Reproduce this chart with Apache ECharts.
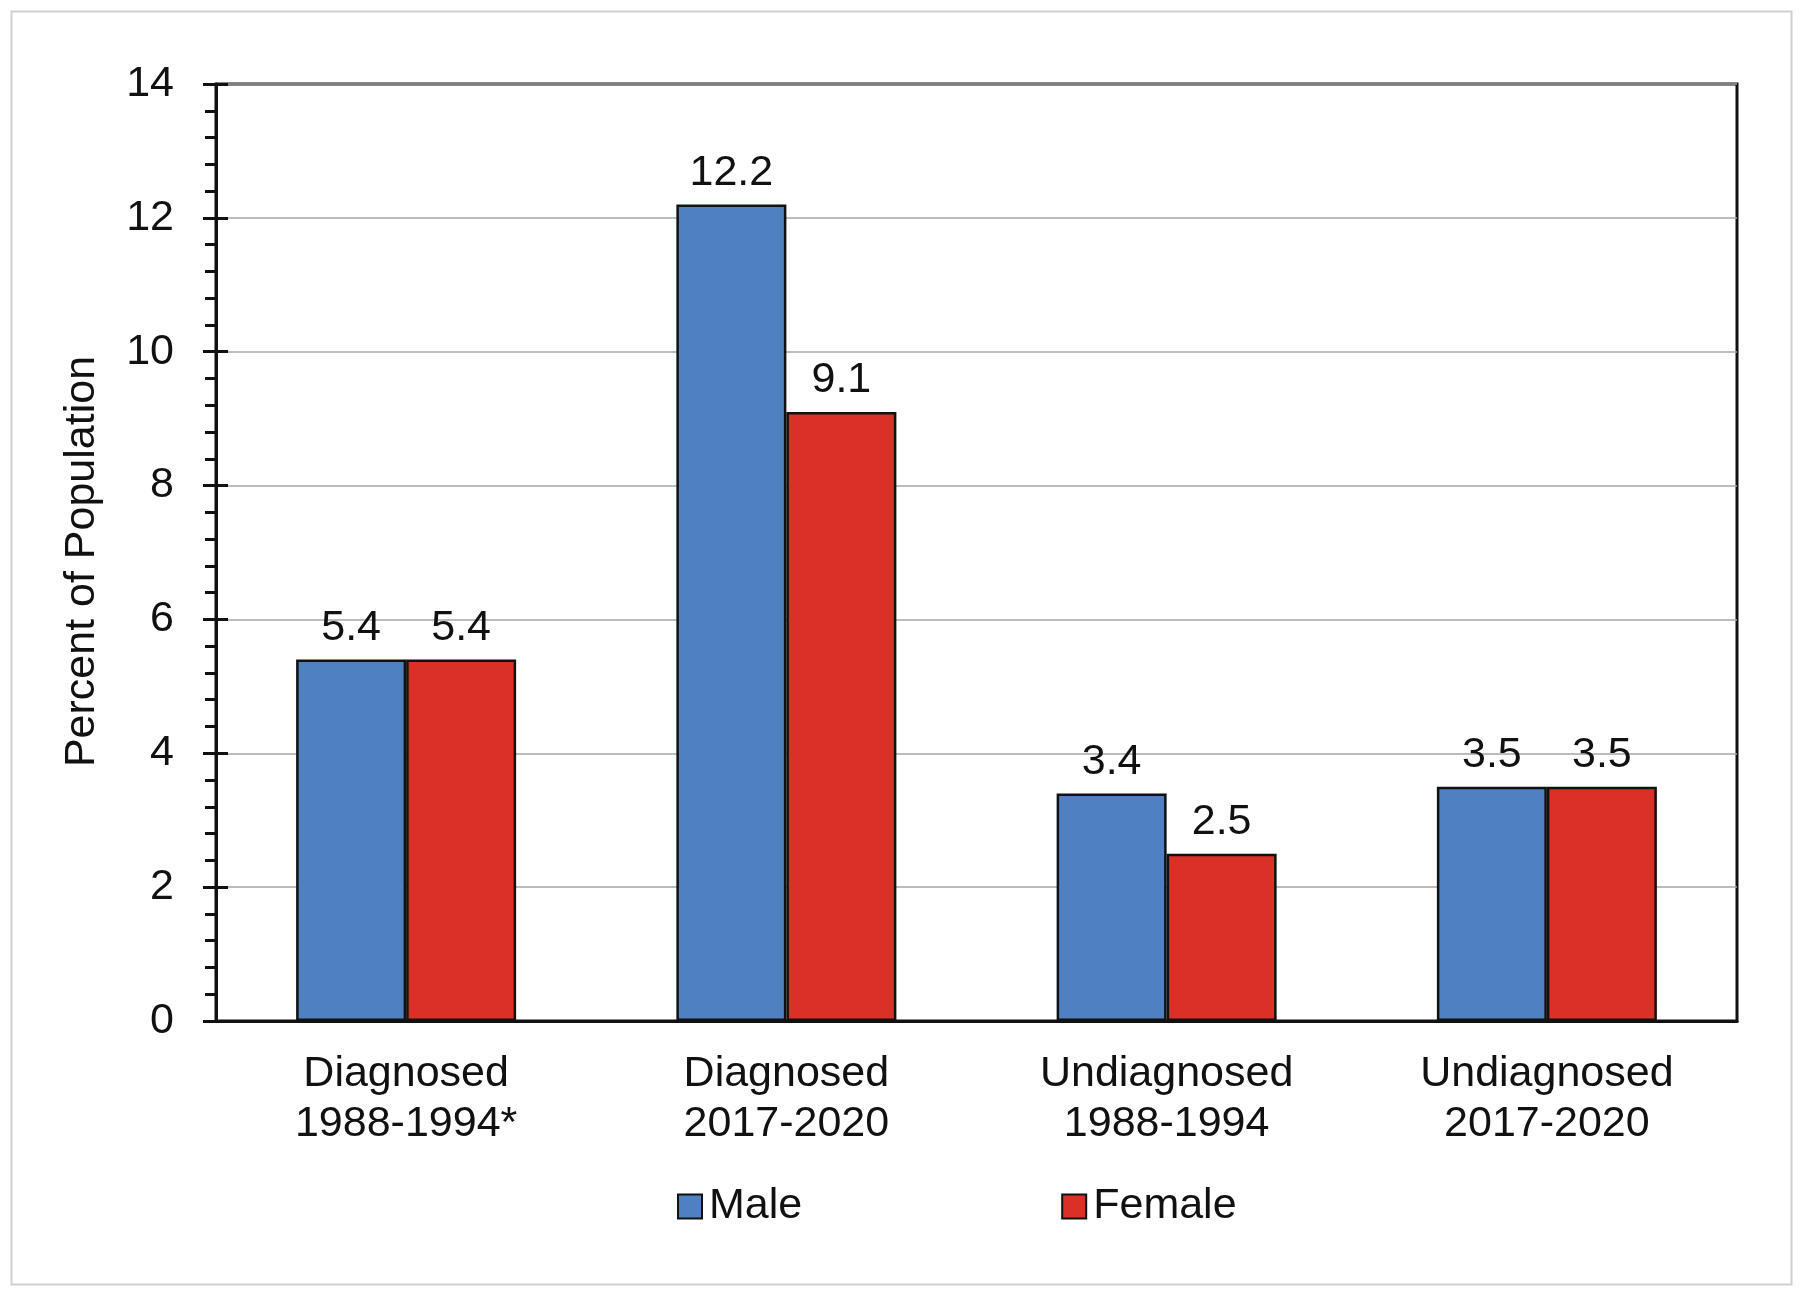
<!DOCTYPE html>
<html>
<head>
<meta charset="utf-8">
<script src="https://cdn.jsdelivr.net/npm/echarts@6/dist/echarts.min.js"></script>
<style>
html,body{margin:0;padding:0;background:#fff;}
#c{width:1800px;height:1293px;}
</style>
</head>
<body>
<div id="c"></div>
<script>
const categories = ['Diagnosed\n1988-1994*', 'Diagnosed\n2017-2020', 'Undiagnosed\n1988-1994', 'Undiagnosed\n2017-2020'];
const maleValues = [5.4, 12.2, 3.4, 3.5];
const femaleValues = [5.4, 9.1, 2.5, 3.5];
const seriesNames = ['Male', 'Female'];
const yTicks = { min: 0, max: 14, interval: 2 };

const FONT = 'Liberation Sans, Arial, sans-serif';
const FS = 43;
const chart = echarts.init(document.getElementById('c'), null, { renderer: 'canvas' });

const labelCfg = {
  show: true, position: 'top', distance: 10,
  color: '#111', fontSize: FS, fontFamily: FONT,
  formatter: p => p.value.toFixed(1)
};

chart.setOption({
  backgroundColor: '#fff',
  animation: false,
  graphic: [{
    type: 'rect', left: 9, top: 9,
    shape: { width: 1780, height: 1273 },
    style: { fill: 'none', stroke: '#cfcfcf', lineWidth: 2 },
    silent: true
  }],
  grid: {
    left: 216, right: 63, top: 84, bottom: 272,
    show: true, borderColor: '#111', borderWidth: 3, backgroundColor: 'transparent'
  },
  legend: {
    left: 672, top: 1180,
    itemWidth: 24, itemHeight: 24, itemGap: 259,
    icon: 'rect',
    textStyle: { fontSize: FS, fontFamily: FONT, color: '#111', padding: [0, 0, 0, 2] },
    data: seriesNames
  },
  xAxis: {
    type: 'category', data: categories,
    axisLine: { show: true, lineStyle: { color: '#111', width: 3 } },
    axisTick: { show: false },
    axisLabel: { color: '#111', fontSize: FS, fontFamily: FONT, lineHeight: 50, margin: 28, interval: 0 },
    splitLine: { show: false }
  },
  yAxis: [{
    type: 'value', min: yTicks.min, max: yTicks.max, interval: yTicks.interval,
    name: 'Percent of Population', nameLocation: 'middle', nameGap: 112,
    nameTextStyle: { fontSize: FS, fontFamily: FONT, color: '#111', padding: [0, 18, 0, 0] },
    axisLine: { show: true, lineStyle: { color: '#111', width: 3 } },
    axisTick: { show: true, length: 13, lineStyle: { color: '#111', width: 3 } },
    minorTick: { show: true, splitNumber: 5, length: 11, lineStyle: { color: '#111', width: 3 } },
    axisLabel: { color: '#111', fontSize: FS, fontFamily: FONT, margin: 42 },
    splitLine: { show: true, lineStyle: { color: '#a6a6a6', width: 1.5 } }
  }, {
    type: 'value', min: yTicks.min, max: yTicks.max, interval: yTicks.interval,
    position: 'left', offset: 0,
    axisLine: { show: false },
    axisTick: { show: true, inside: true, length: 12, lineStyle: { color: '#111', width: 3 } },
    axisLabel: { show: false },
    splitLine: { show: false }
  }],
  series: [{
    name: seriesNames[0], type: 'bar', data: maleValues,
    barWidth: 110, barGap: '0%',
    itemStyle: { color: '#4F81C1', borderColor: '#111', borderWidth: 2.5 },
    label: labelCfg
  }, {
    name: seriesNames[1], type: 'bar', data: femaleValues,
    barWidth: 110, barGap: '0%',
    itemStyle: { color: '#D93027', borderColor: '#111', borderWidth: 2.5 },
    label: labelCfg
  }]
});
</script>
</body>
</html>
